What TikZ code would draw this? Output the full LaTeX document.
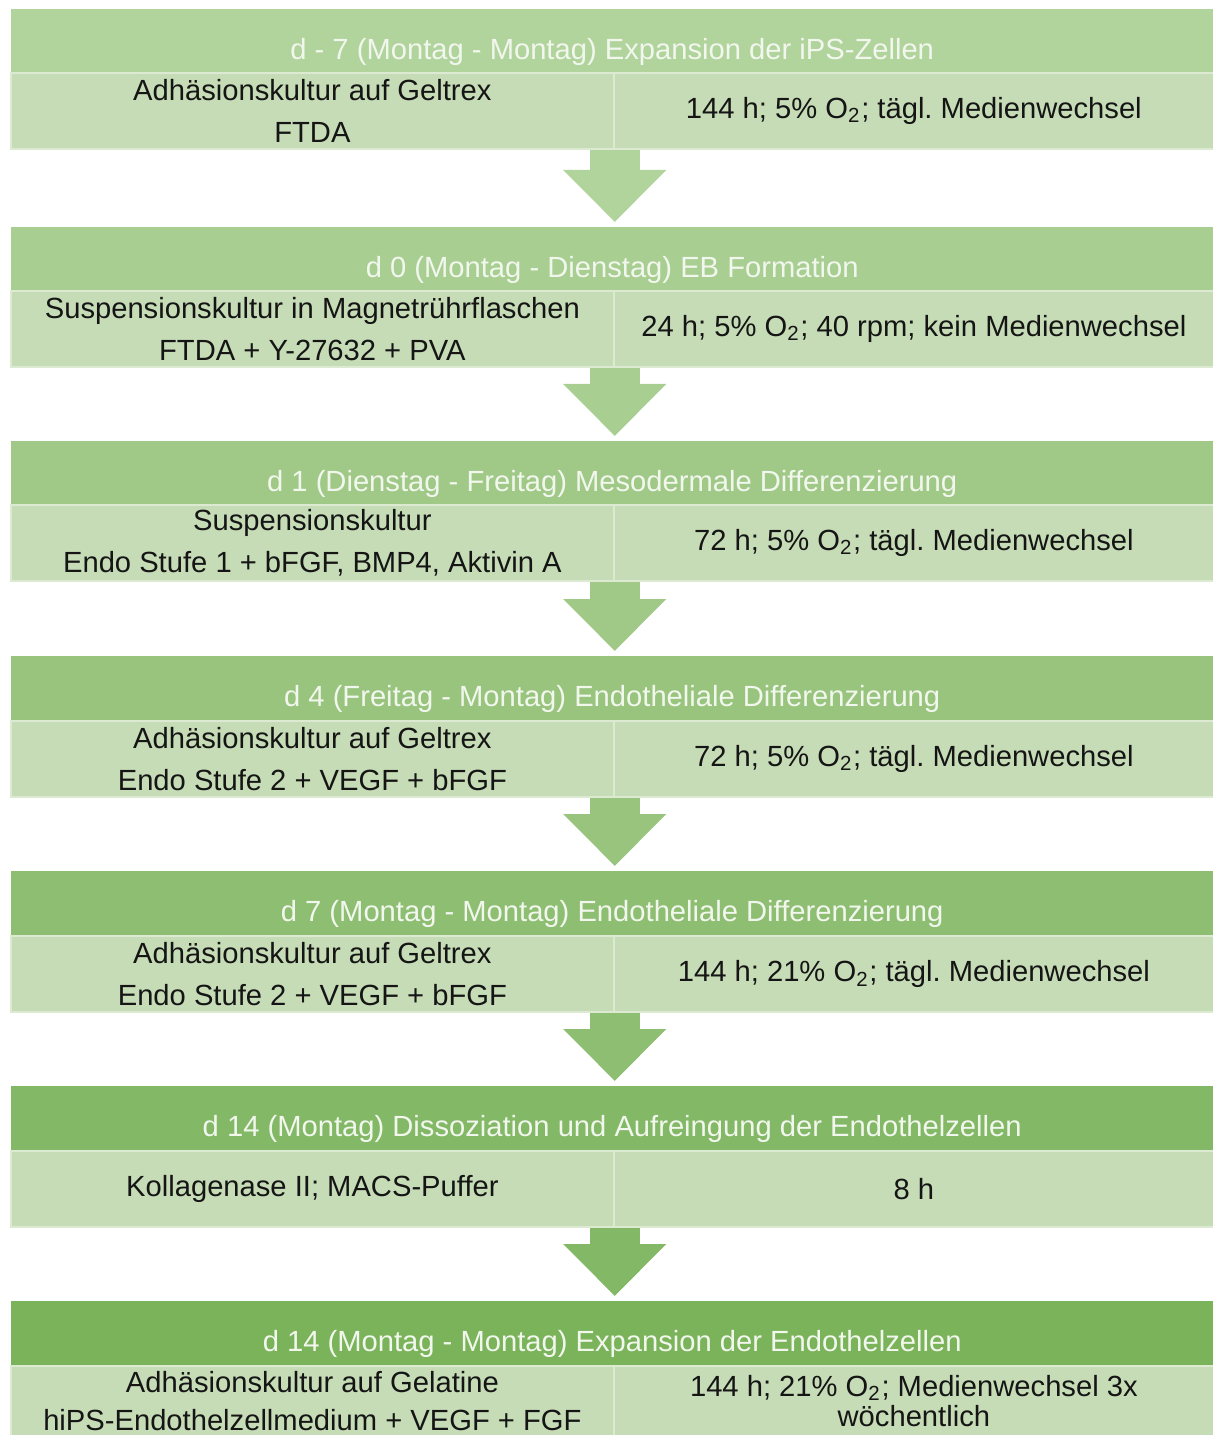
\documentclass[tikz,border=0pt]{standalone}
\usepackage{fontspec}
\setmainfont{Liberation Sans}
\usetikzlibrary{arrows.meta}
\frenchspacing
\definecolor{kopfA}{HTML}{B1D39C}
\definecolor{kopfB}{HTML}{A8CE91}
\definecolor{kopfC}{HTML}{A0C987}
\definecolor{kopfD}{HTML}{98C47E}
\definecolor{kopfE}{HTML}{8EBE72}
\definecolor{kopfF}{HTML}{83B866}
\definecolor{kopfG}{HTML}{7AB35A}
\definecolor{kopftext}{HTML}{F2F7EE}
\definecolor{zellgruen}{HTML}{C6DCB6}
\definecolor{zellrand}{HTML}{DCEAD2}
\definecolor{zelltext}{HTML}{151515}

\begin{document}
\begin{tikzpicture}[
	kopf/.style={rectangle, anchor=north west, minimum width=12.03cm, minimum height=0.64cm, inner sep=0pt, text=kopftext, text height=0.38cm, text depth=0cm, font=\fontsize{8.3}{11.9}\selectfont},
	zelle/.style={rectangle, anchor=north west, minimum height=0.76cm, inner sep=0pt, fill=zellgruen, draw=zellrand, line width=0.5pt, align=center, text=zelltext, font=\fontsize{8.3}{11.9}\selectfont},
	links/.style={zelle, minimum width=6.03cm},
	rechts/.style={zelle, minimum width=6.00cm},
	pfeil/.style={line width=0.5cm, -{Triangle[width=1cm, length=0.52cm]}, shorten >=0.04cm}]
				\useasboundingbox (0,0) rectangle (12.13,-14.35);
				\node[kopf, fill=kopfA] (H1)at(0.10, -0.08) {d - 7 (Montag - Montag) Expansion der iPS-Zellen};
				\node[links] (L1)at(0.10, -0.72) {Adhäsionskultur auf Geltrex\\FTDA};
				\node[rechts] (R1)at(6.13, -0.72) {144 h; 5\% O\textsubscript{2}; tägl. Medienwechsel};
				\node[kopf, fill=kopfB] (H2)at(0.10, -2.26) {d 0 (Montag - Dienstag) EB Formation};
				\node[links] (L2)at(0.10, -2.90) {Suspensionskultur in Magnetrührflaschen\\FTDA + Y-27632 + PVA};
				\node[rechts] (R2)at(6.13, -2.90) {24 h; 5\% O\textsubscript{2}; 40 rpm; kein Medienwechsel};
				\node[kopf, fill=kopfC] (H3)at(0.10, -4.40) {d 1 (Dienstag - Freitag) Mesodermale Differenzierung};
				\node[links] (L3)at(0.10, -5.04) {Suspensionskultur\\Endo Stufe 1 + bFGF, BMP4, Aktivin A};
				\node[rechts] (R3)at(6.13, -5.04) {72 h; 5\% O\textsubscript{2}; tägl. Medienwechsel};
				\node[kopf, fill=kopfD] (H4)at(0.10, -6.55) {d 4 (Freitag - Montag) Endotheliale Differenzierung};
				\node[links] (L4)at(0.10, -7.20) {Adhäsionskultur auf Geltrex\\Endo Stufe 2 + VEGF + bFGF};
				\node[rechts] (R4)at(6.13, -7.20) {72 h; 5\% O\textsubscript{2}; tägl. Medienwechsel};
				\node[kopf, fill=kopfE] (H5)at(0.10, -8.70) {d 7 (Montag - Montag) Endotheliale Differenzierung};
				\node[links] (L5)at(0.10, -9.35) {Adhäsionskultur auf Geltrex\\Endo Stufe 2 + VEGF + bFGF};
				\node[rechts] (R5)at(6.13, -9.35) {144 h; 21\% O\textsubscript{2}; tägl. Medienwechsel};
				\node[kopf, fill=kopfF] (H6)at(0.10, -10.85) {d 14 (Montag) Dissoziation und Aufreingung der Endothelzellen};
				\node[links] (L6)at(0.10, -11.50) {Kollagenase II; MACS-Puffer};
				\node[rechts] (R6)at(6.13, -11.50) {8 h};
				\node[kopf, fill=kopfG] (H7)at(0.10, -13.00) {d 14 (Montag - Montag) Expansion der Endothelzellen};
				\node[links, minimum height=0.70cm, font=\fontsize{8.3}{10.8}\selectfont] (L7)at(0.10, -13.65) {Adhäsionskultur auf Gelatine\\hiPS-Endothelzellmedium + VEGF + FGF};
				\node[rechts, minimum height=0.70cm, font=\fontsize{8.3}{8.5}\selectfont] (R7)at(6.13, -13.65) {144 h; 21\% O\textsubscript{2}; Medienwechsel 3x\\wöchentlich};
				\draw[pfeil, kopfA] (L1.south east) -- (L1.south east |- H2.north);
				\draw[pfeil, kopfB] (L2.south east) -- (L2.south east |- H3.north);
				\draw[pfeil, kopfC] (L3.south east) -- (L3.south east |- H4.north);
				\draw[pfeil, kopfD] (L4.south east) -- (L4.south east |- H5.north);
				\draw[pfeil, kopfE] (L5.south east) -- (L5.south east |- H6.north);
				\draw[pfeil, kopfF] (L6.south east) -- (L6.south east |- H7.north);
			\end{tikzpicture}
\end{document}
